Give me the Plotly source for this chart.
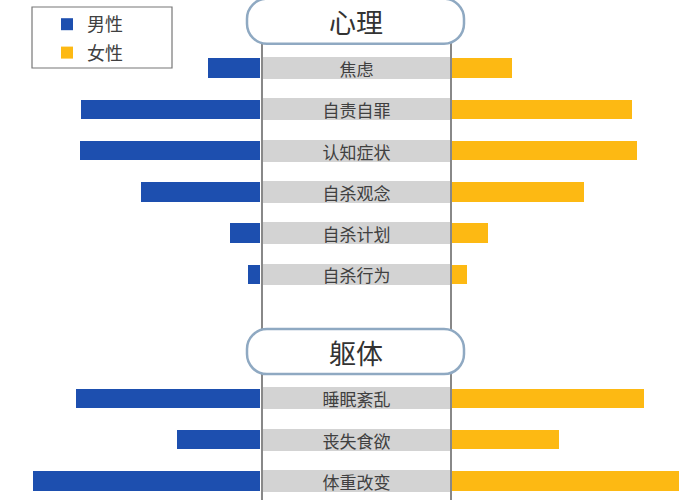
import plotly.graph_objects as go

# ---- data ----
categories = ["心理", "焦虑", "自责自罪", "认知症状", "自杀观念", "自杀计划", "自杀行为",
              "spacer", "躯体", "睡眠紊乱", "丧失食欲", "体重改变"]
items = ["焦虑", "自责自罪", "认知症状", "自杀观念", "自杀计划", "自杀行为",
         "睡眠紊乱", "丧失食欲", "体重改变"]
male = [5.2, 17.9, 18.0, 11.9, 3.0, 1.2, 18.4, 8.3, 22.7]
female = [6.0, 18.0, 18.5, 13.2, 3.6, 1.5, 19.2, 10.7, 22.7]
headers = ["心理", "躯体"]
series_names = ["男性", "女性"]

W, H = 700, 500
BLUE = "#1d4faf"
YELLOW = "#fdb913"
GRAY = "#d3d3d3"
FONT = "Noto Sans CJK SC"

fig = go.Figure()
fig.add_trace(go.Bar(y=items, x=male, orientation="h", name=series_names[0],
                     legendgroup="m",
                     marker=dict(color=BLUE, line=dict(width=0)), width=0.47,
                     xaxis="x", yaxis="y"))
fig.add_trace(go.Bar(y=items, x=female, orientation="h", name=series_names[1],
                     legendgroup="f",
                     marker=dict(color=YELLOW, line=dict(width=0)), width=0.47,
                     xaxis="x3", yaxis="y"))
fig.add_trace(go.Bar(y=items, x=[1] * len(items), orientation="h", showlegend=False,
                     marker=dict(color=GRAY, line=dict(width=0)), width=0.53,
                     text=items, textposition="inside", insidetextanchor="middle",
                     constraintext="none", cliponaxis=False,
                     textfont=dict(size=17, color="#404040", family=FONT),
                     hoverinfo="skip", xaxis="x2", yaxis="y"))

# pixel geometry: category index 1 at y=68px, index 11 at y=481px
xl, xr = 262, 451
unit = (481 - 68) / 10.0
y0px = 68 - unit


def ypos(idx):
    return y0px + idx * unit


y_top = -y0px / unit
y_bot = (H - y0px) / unit

hidden = dict(showgrid=False, zeroline=False, showticklabels=False, showline=False, fixedrange=True)
fig.update_layout(
    width=W, height=H,
    margin=dict(l=0, r=0, t=0, b=0),
    paper_bgcolor="white", plot_bgcolor="white",
    font=dict(family=FONT),
    xaxis=dict(domain=[0, 260 / W], range=[26.0, 0], anchor="y", **hidden),
    xaxis2=dict(domain=[263 / W, 450 / W], range=[0, 1], anchor="y", **hidden),
    xaxis3=dict(domain=[452 / W, 1], range=[0, 24.8], anchor="y", **hidden),
    yaxis=dict(type="category", categoryorder="array", categoryarray=categories,
               range=[y_bot, y_top], **hidden),
    showlegend=True,
    legend=dict(x=47 / W, y=1 - 6 / H, xanchor="left", yanchor="top",
                bgcolor="rgba(0,0,0,0)", font=dict(size=18, color="#404040", family=FONT),
                traceorder="grouped", tracegroupgap=2, itemsizing="constant"),
    bargap=0,
)


def px(x):
    return x / W


def py(y):
    return 1 - y / H


shapes = []
# legend box
shapes.append(dict(type="rect", xref="paper", yref="paper",
                   x0=px(32), x1=px(172), y0=py(7), y1=py(68),
                   line=dict(color="#777", width=1.2), fillcolor="rgba(0,0,0,0)"))
# column lines
for xv in (xl, xr):
    shapes.append(dict(type="line", xref="paper", yref="paper",
                       x0=px(xv), x1=px(xv), y0=0, y1=1,
                       line=dict(color="#606060", width=1.5), layer="above"))


def pill(x0, x1, y0, y1, r):
    k = 0.5523 * r
    pts = [
        f"M{px(x0 + r)},{py(y0)}",
        f"L{px(x1 - r)},{py(y0)}",
        f"C{px(x1 - r + k)},{py(y0)} {px(x1)},{py(y0 + r - k)} {px(x1)},{py(y0 + r)}",
        f"L{px(x1)},{py(y1 - r)}",
        f"C{px(x1)},{py(y1 - r + k)} {px(x1 - r + k)},{py(y1)} {px(x1 - r)},{py(y1)}",
        f"L{px(x0 + r)},{py(y1)}",
        f"C{px(x0 + r - k)},{py(y1)} {px(x0)},{py(y1 - r + k)} {px(x0)},{py(y1 - r)}",
        f"L{px(x0)},{py(y0 + r)}",
        f"C{px(x0)},{py(y0 + r - k)} {px(x0 + r - k)},{py(y0)} {px(x0 + r)},{py(y0)}",
        "Z",
    ]
    return " ".join(pts)


annotations = []
for h in headers:
    idx = categories.index(h)
    cy = ypos(idx) - 5
    shapes.append(dict(type="path", xref="paper", yref="paper",
                       path=pill(247, 464, cy - 23, cy + 22, 20),
                       fillcolor="white", line=dict(color="#8fa9c2", width=2.5),
                       layer="above"))
    annotations.append(dict(x=(xl + xr) / 2 / W, y=py(cy), xref="paper", yref="paper",
                            text=h, showarrow=False,
                            font=dict(size=27, color="#333", family=FONT),
                            xanchor="center", yanchor="middle"))

fig.update_layout(shapes=shapes, annotations=annotations)
fig.write_html("out.html", config={"displayModeBar": False},
               post_script="document.body.style.margin='0';document.body.style.overflow='hidden';")
